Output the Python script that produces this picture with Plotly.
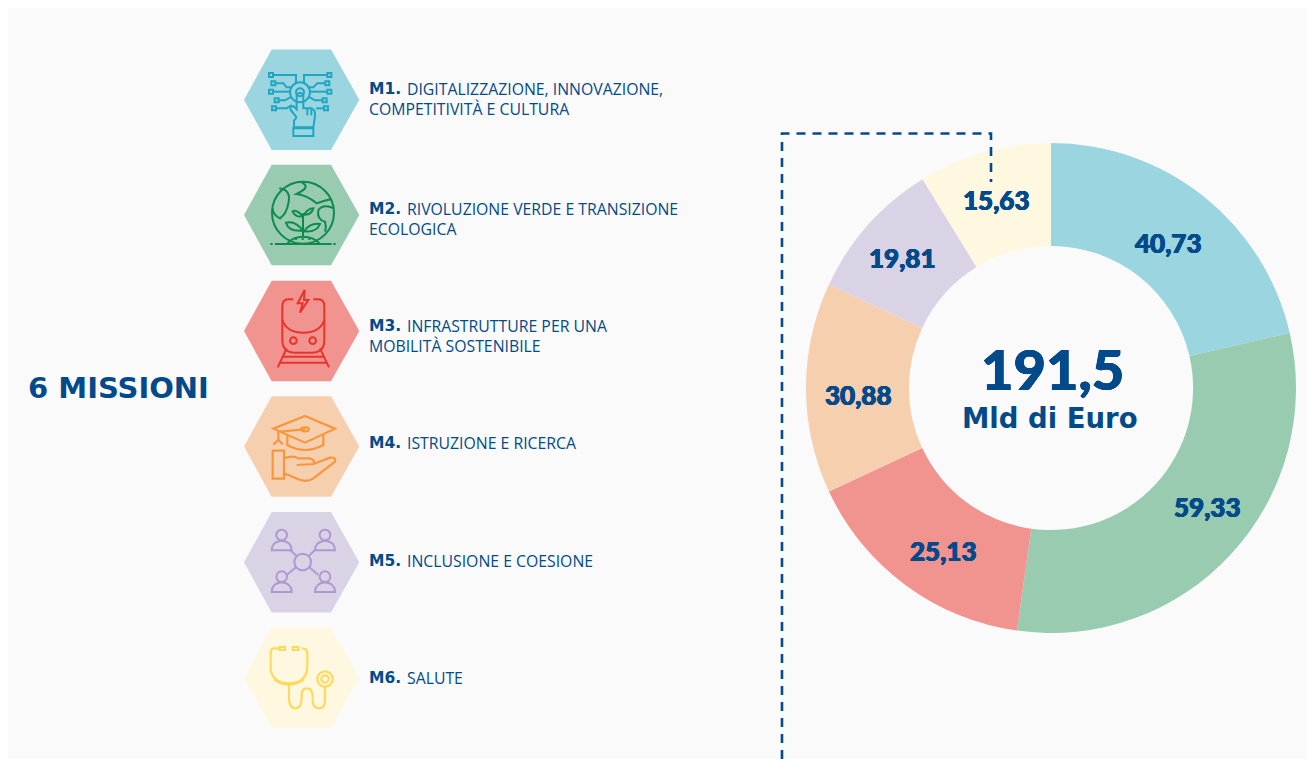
import re
import plotly.graph_objects as go

W, H = 1307, 751  # the page itself adds an 8 px margin at the top and left
OX, OY = 8, 8
codes = ["M1.", "M2.", "M3.", "M4.", "M5.", "M6."]
first_lines = ["DIGITALIZZAZIONE, INNOVAZIONE,", "RIVOLUZIONE VERDE E TRANSIZIONE",
               "INFRASTRUTTURE PER UNA", "ISTRUZIONE E RICERCA", "INCLUSIONE E COESIONE", "SALUTE"]
second_lines = ["COMPETITIVITÀ E CULTURA", "ECOLOGICA", "MOBILITÀ SOSTENIBILE", "", "", ""]
# printed values
values = [40.73, 59.33, 25.13, 30.88, 19.81, 15.63]
# slice spans as drawn in the reference (degrees): the picture's slices are not proportional to the printed values
slice_spans = [77, 111, 57, 50, 33.4, 31.6]
slice_colors = ["#9AD5E0", "#98CBB0", "#F1938E", "#F6CFAF", "#DAD3E6", "#FFF8E1"]
icon_colors = ["#1FA6C2", "#0E8A4B", "#E8332C", "#F7963C", "#AE98CF", "#FFD95C"]
NAVY = "#034A8B"
BODY = "Open Sans"
HEAVY = "Lato"
WIDE = "DejaVu Sans"
THICK = f"0.5px 0 0 {NAVY}, -0.5px 0 0 {NAVY}, 0 0.4px 0 {NAVY}, 0 -0.4px 0 {NAVY}"

def px(x): return (x - OX) / W
def py(y): return 1 - (y - OY) / H

def tr(path, x0, y0):
    """crop coordinates (3x) -> paper fractions"""
    out, i = [], 0
    for tok in re.findall(r"[MLQCZ]|-?\d+\.?\d*", path):
        if tok.isalpha():
            out.append(tok)
        else:
            v = x0 + float(tok) / 3 if i % 2 == 0 else y0 + float(tok) / 3
            out.append(str(px(v)) if i % 2 == 0 else str(py(v)))
            i += 1
    return " ".join(out)

shapes = []
def add_path(path, x0, y0, color, w=2, fill=None):
    shapes.append(dict(type="path", xref="paper", yref="paper", path=tr(path, x0, y0),
                       line=dict(color=color, width=w), fillcolor=fill or "rgba(0,0,0,0)", layer="above"))
def add_circle(cx, cy, r, x0, y0, color, w=2, ry=None):
    X, Y, R, RY = x0 + cx / 3, y0 + cy / 3, r / 3, (ry if ry else r) / 3
    shapes.append(dict(type="circle", xref="paper", yref="paper", x0=px(X - R), x1=px(X + R),
                       y0=py(Y + RY), y1=py(Y - RY), line=dict(color=color, width=w), layer="above"))
def add_box(cx, cy, r, x0, y0, color, w=2):
    add_path(f"M{cx-r} {cy-r} L{cx+r} {cy-r} L{cx+r} {cy+r} L{cx-r} {cy+r} Z", x0, y0, color, w)

# hexagons
centers = [99.7, 215, 331, 446.5, 562.3, 678]
for cy, col in zip(centers, slice_colors):
    xs = [244, 271.7, 331, 359.3, 331, 271.7]
    ys = [cy, cy - 50.3, cy - 50.3, cy, cy + 50.3, cy + 50.3]
    p = "M" + " L".join(f"{px(a)} {py(b)}" for a, b in zip(xs, ys)) + " Z"
    shapes.append(dict(type="path", xref="paper", yref="paper", path=p, line=dict(width=0),
                       fillcolor=col, layer="below"))

# M1 icon
o, c = (230, 40), icon_colors[0]
for cx, cy in [(123,105),(130,130),(123,155),(140,181),(132,205),(298,105),(292,130),(298,155),(284,181),(288,205)]:
    add_box(cx, cy, 6, *o, c)
add_circle(210, 157, 30, *o, c); add_circle(210, 157, 12, *o, c)
for p in ["M130 105 L198 105 L198 130", "M222 130 L222 105 L291 105",
          "M137 130 L160 130 L170 142 L185 142", "M285 130 L262 130 L250 142 L235 142",
          "M130 155 L180 155", "M240 155 L291 155", "M147 181 L165 181 L185 170",
          "M277 181 L255 181 L235 170", "M139 205 L170 205 L185 195", "M281 205 L258 205",
          "M200 232 L182 210 Q178 198 190 198 L200 208 L200 165 Q210 152 220 165 L220 205 L245 205 Q257 210 255 228 L250 262 L192 262 L192 242 L200 232",
          "M190 265 L250 265 L250 288 L190 288 Z", "M232 205 L232 226", "M244 207 L244 226"]:
    add_path(p, *o, c)

# M2 icon
c = icon_colors[1]
add_circle(219, 518, 93, *o, c)
for p in ["M148 445 Q185 450 175 490 Q170 520 150 535 Q130 525 127 505",
          "M215 428 Q245 440 200 462 Q230 465 260 490 Q290 480 305 478",
          "M312 505 Q280 490 265 510 Q260 540 285 545 Q290 560 285 575",
          "M219 590 L219 520", "M219 528 Q195 505 188 515 Q200 535 219 528",
          "M222 524 Q235 505 250 505 Q245 525 222 524",
          "M219 572 Q195 540 168 548 Q175 575 219 572", "M222 574 Q240 548 270 552 Q260 578 222 574",
          "M172 610 Q190 590 219 590 Q250 590 268 610", "M135 612 L305 612",
          "M121 612 L128 612", "M310 612 L317 612", "M195 597 L201 597", "M215 597 L221 597", "M235 597 L241 597"]:
    add_path(p, *o, c)

# M3 icon
c = icon_colors[2]
for p in ["M190 778 L175 778 Q157 778 157 800 L157 900 Q157 938 195 938 L245 938 Q283 938 283 900 L283 800 Q283 778 265 778 L250 778",
          "M157 840 Q170 878 220 878 Q270 878 283 840", "M224 750 L203 790 L218 790 L210 818 L235 780 L222 780 Z",
          "M170 925 L143 982", "M270 925 L297 982", "M160 950 L280 950", "M150 968 L290 968"]:
    add_path(p, *o, c)
add_circle(190, 902, 10, *o, c); add_circle(248, 902, 10, *o, c)

# M4 icon
o, c = (230, 390), icon_colors[3]
for p in ["M225 78 L315 116 L225 158 L130 116 Z", "M172 135 L172 165 Q225 195 280 165 L280 135",
          "M225 118 L145 125 L145 150", "M130 163 L145 150 L158 163",
          "M128 182 L162 182 L162 266 L128 266 Z",
          "M162 205 Q190 195 205 205 L240 205 Q257 210 250 222 L200 225",
          "M250 222 L300 203 Q318 200 315 215 L250 265 Q230 278 205 268 L162 250"]:
    add_path(p, *o, c, 2.2)
add_circle(225, 118, 12, *o, c, 2.2, ry=6)

# M5 icon
c = icon_colors[4]
add_circle(218, 516, 25, *o, c)
for hx, hy in [(155, 435), (285, 435), (155, 560), (285, 560)]:
    add_circle(hx, hy, 16, *o, c)
    add_path(f"M{hx-30} {hy+46} Q{hx-30} {hy+20} {hx} {hy+17} Q{hx+30} {hy+20} {hx+30} {hy+46} Z", *o, c)
for p in ["M200 498 L180 480", "M236 498 L255 480", "M198 532 L170 555", "M238 532 L265 555"]:
    add_path(p, *o, c)

# M6 icon
c = icon_colors[5]
for p in ["M148 775 L130 775 Q122 775 122 790 L122 840 Q130 880 177 880 Q230 880 232 830 L232 790 Q232 775 215 775",
          "M148 771 L165 771 L165 780 L148 780 Z", "M188 771 L205 771 L205 780 L188 780 Z",
          "M132 868 Q175 900 222 868",
          "M177 885 L177 930 Q180 955 195 955 Q215 955 215 925 L215 915 Q215 895 230 895 Q248 895 248 920 L248 935 Q250 955 268 955 Q285 955 285 930 L285 890"]:
    add_path(p, *o, c, 2.2)
add_circle(285, 867, 23, *o, c, 2.2); add_circle(285, 867, 11, *o, c, 2.2)

# dashed leader
p = "M" + " L".join(f"{px(a)} {py(b)}" for a, b in [(782, 759), (782, 133.5), (991, 133.5), (991, 182)])
shapes.append(dict(type="path", xref="paper", yref="paper", path=p, layer="above",
                   line=dict(color=NAVY, width=2.6, dash="9px,7px")))

ann = []
def text(x, y, s, size, font, color=NAVY, anchor="left", weight=None, shadow=None):
    ann.append(dict(xref="paper", yref="paper", x=px(x), y=py(y), text=s, showarrow=False,
                    xanchor=anchor, yanchor="middle", borderpad=0, borderwidth=0,
                    font=dict(family=font, size=size, color=color, weight=weight, shadow=shadow)))

rows = [(89, 109), (209, 229), (326, 346), (443, None), (561, None), (678, None)]
for code, l1, l2, (y1, y2) in zip(codes, first_lines, second_lines, rows):
    text(369, y1, code, 15.5, WIDE, weight=700)
    text(407, y1, l1, 15.8, BODY)
    if l2:
        text(369, y2, l2, 15.8, BODY)

text(28, 388, "6 MISSIONI", 29, WIDE, weight=700)
text(1052, 368, "191,5", 56, HEAVY, anchor="center", weight=900, shadow=THICK)
text(1050, 418, "Mld di Euro", 27.5, WIDE, anchor="center", weight=700)

label_centers = [(1168, 243), (1207, 507), (943, 551), (858, 395), (902, 258), (996, 200)]
for v, (x, y) in zip(values, label_centers):
    text(x, y, f"{v:.2f}".replace(".", ","), 26, HEAVY, anchor="center", weight=900, shadow=THICK)

fig = go.Figure(go.Pie(
    values=slice_spans, labels=codes, sort=False, direction="clockwise", rotation=0, hole=0.58,
    marker=dict(colors=slice_colors, line=dict(width=0)), textinfo="none",
    domain=dict(x=[px(806), px(1296)], y=[py(633), py(143)]),
    showlegend=False, hoverinfo="label"))
fig.update_layout(width=W, height=H, margin=dict(l=0, r=0, t=0, b=0), paper_bgcolor="#FAFAFA",
                  shapes=shapes, annotations=ann, autosize=False)
fig.write_html("out.html")
